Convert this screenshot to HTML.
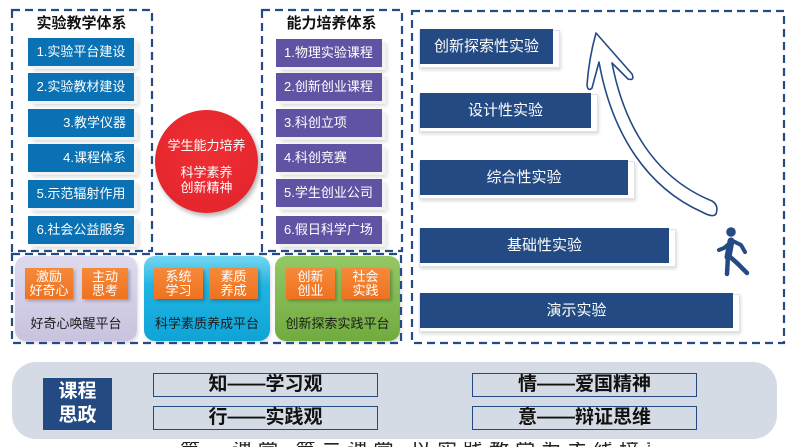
<!DOCTYPE html>
<html style="width:792px;height:447px;overflow:hidden"><head><meta charset="utf-8">
<style>
*{margin:0;padding:0;box-sizing:border-box}
body{width:792px;height:447px;overflow:hidden;background:#fff;position:relative;font-family:"Liberation Sans","Noto Sans CJK SC",sans-serif}
.a{position:absolute}
.t{position:absolute;font-weight:bold;font-size:15px;color:#111;text-align:center;line-height:18px}
.bb{position:absolute;background:#0a72b4;color:#fff;font-size:13px;line-height:28px;height:28px;box-shadow:4px 3px 0 0 #f2f2f2,5px 5px 4px rgba(0,0,0,.15);white-space:nowrap}
.pb{position:absolute;background:#6153a3;color:#fff;font-size:13px;line-height:28px;height:28px;box-shadow:4px 3px 0 0 #f2f2f2,5px 5px 4px rgba(0,0,0,.15);white-space:nowrap;padding-left:8px}
.panel{position:absolute;top:256px;height:85px;border-radius:11px}
.ob{position:absolute;top:268px;height:31px;width:48px;background:linear-gradient(#f58a3a,#ef7220);color:#fff;font-size:13px;line-height:14px;text-align:center;padding-top:2px;box-shadow:2px 2px 3px rgba(0,0,0,.25)}
.pl{position:absolute;top:315px;font-size:13px;color:#1a1a1a;text-align:center;line-height:18px}
.fr{position:absolute;background:#fff;border:1px solid #e2e2e2;box-shadow:1px 2px 3px rgba(0,0,0,.15)}
.nb{position:absolute;left:420px;background:#234a82;color:#fff;font-size:15px;text-align:center;height:35px;line-height:35px}
.kb{position:absolute;height:24px;border:1px solid #234a82;font-size:19px;font-weight:bold;color:#111;text-align:center;line-height:22px;width:225px}
</style></head><body>

<!-- left system -->
<div class="t" style="left:11px;width:141px;top:15px">实验教学体系</div>
<div class="bb" style="left:28px;top:38px;width:106px;text-align:center">1.实验平台建设</div>
<div class="bb" style="left:28px;top:73px;width:106px;text-align:center">2.实验教材建设</div>
<div class="bb" style="left:28px;top:109px;width:106px;text-align:right;padding-right:8px">3.教学仪器</div>
<div class="bb" style="left:28px;top:144px;width:106px;text-align:right;padding-right:8px">4.课程体系</div>
<div class="bb" style="left:28px;top:180px;width:106px;text-align:center">5.示范辐射作用</div>
<div class="bb" style="left:28px;top:216px;width:106px;text-align:center">6.社会公益服务</div>

<!-- circle -->
<div class="a" style="left:155px;top:110px;width:103px;height:103px;border-radius:50%;background:radial-gradient(circle at 50% 40%,#ee3035,#e2222a);box-shadow:2px 3px 5px rgba(0,0,0,.3)"></div>
<div class="a" style="left:155px;top:137px;width:103px;text-align:center;color:#fff;font-size:13px;line-height:18px">学生能力培养</div>
<div class="a" style="left:155px;top:165px;width:103px;text-align:center;color:#fff;font-size:13px;line-height:15px">科学素养<br>创新精神</div>

<!-- middle system -->
<div class="t" style="left:261px;width:141px;top:15px">能力培养体系</div>
<div class="pb" style="left:276px;top:39px;width:106px">1.物理实验课程</div>
<div class="pb" style="left:276px;top:73px;width:106px">2.创新创业课程</div>
<div class="pb" style="left:276px;top:109px;width:106px">3.科创立项</div>
<div class="pb" style="left:276px;top:144px;width:106px">4.科创竞赛</div>
<div class="pb" style="left:276px;top:179px;width:106px">5.学生创业公司</div>
<div class="pb" style="left:276px;top:216px;width:106px">6.假日科学广场</div>

<!-- platforms -->
<div class="panel" style="left:15px;width:122px;background:linear-gradient(#dedaee,#c9c3df);box-shadow:1px 2px 3px rgba(0,0,0,.15)"></div>
<div class="panel" style="left:144px;width:126px;background:linear-gradient(#74d6f2 0%,#20b4e2 35%,#0ea4d6 100%);box-shadow:1px 2px 3px rgba(0,0,0,.15)"></div>
<div class="panel" style="left:275px;width:125px;background:linear-gradient(#94c865,#71ab3f);box-shadow:1px 2px 3px rgba(0,0,0,.15)"></div>
<div class="ob" style="left:25px">激励<br>好奇心</div>
<div class="ob" style="left:82px;width:46px">主动<br>思考</div>
<div class="ob" style="left:154px;width:49px">系统<br>学习</div>
<div class="ob" style="left:209px;width:49px">素质<br>养成</div>
<div class="ob" style="left:286px;width:49px">创新<br>创业</div>
<div class="ob" style="left:341px;width:49px">社会<br>实践</div>
<div class="pl" style="left:15px;width:122px">好奇心唤醒平台</div>
<div class="pl" style="left:144px;width:126px">科学素质养成平台</div>
<div class="pl" style="left:275px;width:125px">创新探索实践平台</div>

<!-- right bars -->
<div class="fr" style="left:419px;top:30px;width:141px;height:38px"></div>
<div class="nb" style="top:29px;width:133px">创新探索性实验</div>
<div class="fr" style="left:419px;top:94px;width:179px;height:38px"></div>
<div class="nb" style="top:93px;width:171px">设计性实验</div>
<div class="fr" style="left:419px;top:161px;width:216px;height:38px"></div>
<div class="nb" style="top:160px;width:208px">综合性实验</div>
<div class="fr" style="left:419px;top:229px;width:257px;height:38px"></div>
<div class="nb" style="top:228px;width:249px">基础性实验</div>
<div class="fr" style="left:419px;top:294px;width:321px;height:38px"></div>
<div class="nb" style="top:293px;width:313px">演示实验</div>

<svg class="a" style="left:0;top:0" width="792" height="447" viewBox="0 0 792 447">
<g fill="none" stroke="#244b85" stroke-width="2.2" stroke-dasharray="8 5">
<rect x="12" y="10" width="140" height="241"/>
<rect x="262" y="10" width="140" height="241"/>
<rect x="412" y="11" width="372" height="332"/>
<rect x="12" y="254" width="389" height="89"/>
</g>
<path d="M596,33 L632,74 Q635,81 628,79 L612,63 C622,115 648,175 712,201 Q719,205 716,214 Q713,218 702,212 C648,188 612,135 599,62 L592,88 Q588,92 587,85 Q589,58 596,33 Z" fill="#fff" stroke="#244b85" stroke-width="1.6" stroke-linejoin="round"/>
<g stroke="#244b85" stroke-linecap="round" stroke-linejoin="round" fill="none">
<circle cx="731" cy="232" r="4.8" fill="#244b85" stroke="none"/>
<path d="M731,241 L728,257" stroke-width="7"/>
<path d="M730,243 L724,248 L719,250" stroke-width="4"/>
<path d="M733,241 L741,245 L745,252" stroke-width="4"/>
<path d="M728,256 L727,274" stroke-width="4.5"/>
<path d="M729,256 L737,263 L747,273" stroke-width="4.5"/>
</g>
</svg>

<!-- bottom panel -->
<div class="a" style="left:12px;top:362px;width:765px;height:77px;border-radius:24px;background:#d5dbe5"></div>
<div class="a" style="left:43px;top:378px;width:69px;height:52px;background:#234a82;color:#fff;font-weight:bold;font-size:19px;line-height:24px;text-align:center;padding-top:2px">课程<br>思政</div>
<div class="kb" style="left:153px;top:373px">知——学习观</div>
<div class="kb" style="left:153px;top:406px">行——实践观</div>
<div class="kb" style="left:472px;top:373px">情——爱国精神</div>
<div class="kb" style="left:472px;top:406px">意——辩证思维</div>

<div class="a" style="left:170px;top:442px;width:480px;height:5px;overflow:hidden">
<div class="a" style="left:10px;top:-1px;font-size:20px;line-height:20px;color:#222;white-space:nowrap;letter-spacing:6px">第一课堂 第二课堂 以实践教学为主线培养创新型人才</div>
</div>
</body></html>
